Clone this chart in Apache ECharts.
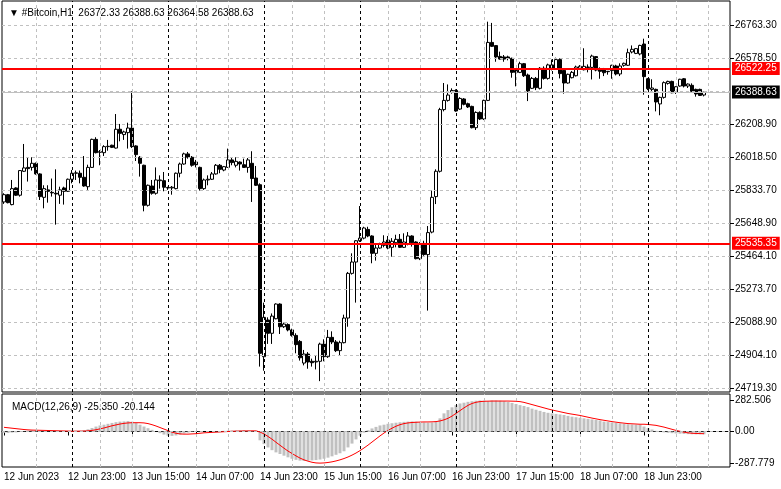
<!DOCTYPE html>
<html><head><meta charset="utf-8">
<script src="https://cdn.jsdelivr.net/npm/echarts@6.0.0/dist/echarts.min.js"></script>
<style>html,body{margin:0;padding:0;background:#fff}#c{width:781px;height:489px}</style>
</head><body><div id="c"></div>
<script>
const symbolName = '#Bitcoin,H1';
const opens = [25769,25810,25754,25848,25807,25942,25964,25964,25987,25927,25795,25837,25823,25818,25807,25848,25829,25897,25931,25931,
25908,25855,25964,26122,26049,26047,26081,26089,26073,26179,26149,26160,26186,26085,26021,25976,25750,25859,25818,25889,
25889,25850,25848,25844,25931,25983,26040,26021,25994,25964,25844,25893,25897,25927,25976,25949,25964,26006,25976,25994,
25979,25964,25987,25904,25866,24896,25103,25028,25110,25193,25065,25077,25047,25016,24982,24860,24911,24870,24866,24870,
24967,24896,25005,24979,24930,24975,25114,25366,25430,25550,25565,25614,25577,25479,25509,25524,25554,25513,25539,25558,
25513,25532,25577,25543,25449,25535,25472,25599,25799,25942,26290,26342,26387,26398,26293,26350,26323,26308,26188,26274,
26237,26342,26669,26651,26590,26587,26587,26579,26511,26500,26549,26485,26410,26466,26410,26523,26466,26523,26519,26572,
26511,26440,26470,26481,26523,26515,26530,26528,26589,26517,26517,26506,26510,26536,26491,26540,26540,26615,26607,26604,
26660,26464,26404,26404,26322,26359,26438,26449,26389,26423,26464,26423,26427,26404,26404,26372.33];
const highs = [25818,25814,25893,25852,25949,26096,26017,26021,25991,25931,25863,25863,25901,25953,25855,25855,25901,25949,25946,25946,
26028,25979,26126,26134,26062,26089,26119,26092,26265,26209,26171,26216,26393,26089,26028,25979,25867,25893,25964,25919,
25938,25855,25859,25935,25991,26047,26051,26028,26006,25968,25901,25919,25938,25983,25983,25972,26070,26017,26021,25998,
26013,26017,26055,25972,25874,25201,25118,25140,25197,25197,25088,25084,25054,25028,24990,24934,24922,24885,24900,24975,
24994,25047,25039,24990,24986,25133,25374,25479,25554,25746,25629,25629,25581,25528,25539,25581,25577,25565,25584,25588,
25592,25599,25581,25547,25543,25550,25633,25833,25953,26300,26440,26432,26410,26404,26360,26355,26329,26312,26280,26280,
26346,26786,26779,26654,26617,26598,26594,26583,26523,26560,26553,26493,26474,26474,26530,26534,26549,26572,26583,26579,
26515,26493,26508,26538,26541,26636,26545,26600,26592,26528,26525,26508,26543,26543,26551,26555,26634,26652,26637,26656,
26690,26468,26461,26408,26363,26449,26453,26453,26423,26464,26468,26438,26438,26408,26408,26388.63];
const lows = [25758,25761,25750,25803,25799,25938,25884,25946,25923,25780,25733,25765,25799,25641,25758,25754,25825,25874,25893,25874,
25855,25837,25961,26043,25976,26028,26058,26073,26070,26111,26119,26070,26073,26000,25912,25716,25743,25810,25810,25844,
25829,25837,25810,25840,25908,25979,26013,25968,25964,25833,25837,25863,25893,25923,25931,25942,25961,25976,25964,25946,
25961,25934,25769,25859,24840,24817,24968,24968,25107,25024,25058,25039,25009,24915,24874,24847,24828,24840,24824,24758,
24870,24889,24967,24922,24900,24971,25065,25359,25201,25543,25558,25570,25423,25438,25505,25513,25502,25460,25513,25509,
25509,25524,25517,25445,25441,25465,25156,25592,25757,25935,26280,26335,26380,26278,26288,26314,26299,26184,26175,26231,
26231,26338,26643,26560,26572,26560,26568,26470,26421,26496,26474,26338,26406,26400,26404,26459,26459,26511,26515,26466,
26380,26436,26466,26477,26519,26511,26500,26460,26506,26464,26479,26487,26464,26483,26479,26532,26536,26607,26603,26596,
26374,26400,26385,26280,26258,26352,26431,26382,26378,26419,26415,26412,26389,26363,26367,26364.58];
const closes = [25810,25765,25844,25807,25946,25961,25957,25987,25927,25799,25844,25829,25820,25814,25837,25829,25897,25931,25933,25908,
25859,25964,26122,26047,26053,26081,26083,26077,26179,26156,26164,26186,26081,26036,25987,25750,25863,25818,25893,25893,
25852,25848,25852,25931,25983,26040,26021,25976,25979,25844,25893,25897,25927,25976,25953,25968,26006,25991,25998,25983,
25964,26006,25901,25863,24915,25118,25028,25125,25193,25065,25080,25047,25016,24964,24890,24911,24866,24862,24870,24967,
24896,25005,24979,24930,24975,25114,25366,25430,25550,25565,25622,25577,25479,25509,25532,25543,25509,25547,25558,25513,
25543,25577,25539,25449,25535,25472,25596,25795,25942,26290,26342,26372,26398,26282,26353,26320,26305,26188,26274,26237,
26342,26669,26647,26587,26575,26575,26579,26500,26500,26549,26481,26395,26466,26414,26523,26466,26542,26542,26572,26493,
26440,26489,26500,26530,26534,26534,26528,26592,26513,26506,26498,26504,26540,26491,26536,26551,26611,26630,26634,26652,
26476,26408,26412,26333,26359,26442,26449,26385,26419,26461,26423,26434,26393,26378,26370,26388.63];
const macdMain = [-12,-14,-10,-8,-4,2,8,12,14,10,4,2,-2,-4,-3,0,2,4,6,8,
12,20,32,45,55,62,70,78,85,90,92,95,90,78,62,45,30,15,0,-15,
-28,-38,-40,-36,-28,-18,-10,-4,0,2,0,-2,0,2,4,6,8,8,10,10,
12,10,6,0,-80,-115,-145,-170,-190,-205,-220,-235,-248,-258,-265,-268,-266,-263,-260,-255,
-248,-238,-226,-212,-198,-180,-145,-110,-72,-38,-10,12,28,42,55,62,70,75,80,84,
88,90,92,90,85,82,80,82,95,120,165,195,220,240,255,262,270,276,280,282.506,
280,275,282,282,280,275,268,260,250,240,232,222,208,198,188,178,170,165,160,155,
150,142,135,130,125,120,115,110,105,100,90,86,82,78,74,70,66,64,62,62,
45,30,18,6,-2,-8,-12,-15,-18,-20,-22,-24,-25,-26,-25,-25.350];
const macdSignal = [38,34,30,26,22,18,15,13,12,11,10,9,8,7,6,5,4,3,3,3,
4,6,10,16,24,32,42,52,60,68,74,78,80,80,80,78,72,62,50,36,
22,8,-6,-16,-22,-24,-24,-22,-20,-16,-12,-10,-8,-6,-4,-2,0,2,3,4,
5,5,6,6,-5,-22,-45,-70,-98,-125,-152,-178,-200,-222,-242,-258,-270,-280,-286,-287.779,
-286,-282,-276,-268,-258,-246,-232,-215,-196,-174,-150,-124,-96,-68,-40,-14,10,30,48,62,
72,78,82,84,86,87,87,88,90,96,106,120,140,165,190,215,238,255,266,272,
275,276,277,277,277,277,277,276,275,272,265,255,245,235,225,215,205,196,188,180,
172,164,158,152,146,138,130,122,115,108,102,96,90,85,80,76,72,70,68,66,
66,64,60,56,48,40,30,20,10,2,-6,-12,-16,-18,-19,-20.144];
const xTickLabels = ['12 Jun 2023','12 Jun 23:00','13 Jun 15:00','14 Jun 07:00','14 Jun 23:00','15 Jun 15:00','16 Jun 07:00','16 Jun 23:00','17 Jun 15:00','18 Jun 07:00','18 Jun 23:00'];
const priceTickLabels = [24719.30,24904.10,25088.90,25273.70,25464.10,25648.90,25833.70,26018.50,26208.90,26578.50,26763.30];
const priceGridLevels = [24719.30,24904.10,25088.90,25273.70,25464.10,25648.90,25833.70,26018.50,26208.90,26393.70,26578.50,26763.30];
const levelLines = [26522.25, 25535.35];
const bidPrice = 26388.63;
const macdTickLabels = [282.506, 0, -287.779];

const FONT = 'Liberation Sans, Arial, sans-serif';
const FS = 10;
const NB = 182; // slots incl. right shift
const start = Date.UTC(2023, 5, 12, 7);
const cats = [];
const separators = [];
for (let i = 0; i < NB; i++) {
  const d = new Date(start + i * 3600000);
  cats.push(String(i));
  if (d.getUTCHours() === 0) separators.push(i);
}
const gridV = [];
for (let i = 8; i < NB; i += 8) { if (separators.indexOf(i + 1) < 0 && separators.indexOf(i) < 0) gridV.push(i); }

const candles = opens.map((o, i) => [o, closes[i], lows[i], highs[i]]);
const greyDash = {color: '#c0c0c0', type: [3, 3], width: 1};
const blackDash = {color: '#000', type: [3, 3], width: 1};
function vLines(style) { return (arr) => arr.map(i => ({xAxis: cats[i], lineStyle: style})); }
const baseML = {symbol: ['none', 'none'], silent: true, animation: false, label: {show: false}};

const chart = echarts.init(document.getElementById('c'), null, {renderer: 'canvas'});
chart.setOption({
  animation: false,
  backgroundColor: '#fff',
  textStyle: {fontFamily: FONT},
  title: [
    {text: '\u25BC ' + symbolName + '  ' + [opens[175], highs[175], lows[175], closes[175]].map(v => v.toFixed(2)).join(' '),
     left: 4, top: 3, textStyle: {fontSize: FS, fontWeight: 'normal', color: '#000', fontFamily: FONT}},
    {text: 'MACD(12,26,9) ' + macdMain[macdMain.length - 1].toFixed(3) + ' ' + macdSignal[macdSignal.length - 1].toFixed(3),
     left: 7, top: 397, textStyle: {fontSize: FS, fontWeight: 'normal', color: '#000', fontFamily: FONT}}
  ],
  grid: [
    {left: 2, top: 1, width: 728, height: 391, show: true, borderColor: '#000', borderWidth: 1, backgroundColor: 'transparent'},
    {left: 2, top: 394, width: 728, height: 73, show: true, borderColor: '#000', borderWidth: 1, backgroundColor: 'transparent'}
  ],
  xAxis: [
    {type: 'category', gridIndex: 0, data: cats, show: false},
    {type: 'category', gridIndex: 1, data: cats,
     axisLine: {show: true, lineStyle: {color: '#000'}},
     axisTick: {show: true, alignWithLabel: true, length: 4, interval: (i) => i % 16 === 0 && i / 16 < xTickLabels.length, lineStyle: {color: '#000'}},
     axisLabel: {show: true, interval: (i) => i % 16 === 0 && i / 16 < xTickLabels.length, align: 'left', margin: 5,
       formatter: (v, i) => xTickLabels[i / 16] || '', fontSize: FS, color: '#000', fontFamily: FONT},
     splitLine: {show: false}}
  ],
  yAxis: [
    {type: 'value', gridIndex: 0, position: 'right', min: 24696.73, max: 26902.66, scale: true,
     splitLine: {show: false}, axisLine: {show: false},
     axisTick: {show: true, customValues: priceTickLabels, length: 4, lineStyle: {color: '#000'}},
     axisLabel: {customValues: priceTickLabels, formatter: (v) => v.toFixed(2), fontSize: FS, color: '#000', margin: 5, fontFamily: FONT}},
    {type: 'value', gridIndex: 1, position: 'right', min: -323.05, max: 341.25,
     splitLine: {show: false}, axisLine: {show: false},
     axisTick: {show: true, customValues: macdTickLabels, length: 4, lineStyle: {color: '#000'}},
     axisLabel: {customValues: macdTickLabels, formatter: (v) => (v === 0 ? '0.00' : v.toFixed(3)), fontSize: FS, color: '#000', margin: 5, fontFamily: FONT}}
  ],
  series: [
    {type: 'line', xAxisIndex: 0, yAxisIndex: 0, data: [], z: 1, silent: true,
     markLine: Object.assign({}, baseML, {data: [].concat(
       priceGridLevels.map(v => ({yAxis: v, lineStyle: greyDash})),
       vLines(greyDash)(gridV),
       vLines(blackDash)(separators))})},
    {type: 'candlestick', xAxisIndex: 0, yAxisIndex: 0, data: candles, barWidth: 3, z: 2,
     itemStyle: {color: '#ffffff', color0: '#000000', borderColor: '#000000', borderColor0: '#000000', borderWidth: 1}},
    {type: 'line', xAxisIndex: 0, yAxisIndex: 0, data: [], z: 5, silent: true,
     markLine: Object.assign({}, baseML, {data: [].concat(
       [{yAxis: bidPrice, lineStyle: {color: '#c0c0c0', type: 'solid', width: 1},
         label: {show: true, position: 'end', distance: 2, formatter: bidPrice.toFixed(2), color: '#fff', backgroundColor: '#000', padding: [2, 3, 1, 3], fontSize: FS, fontFamily: FONT}}],
       levelLines.map(v => ({yAxis: v, lineStyle: {color: '#ff0000', type: 'solid', width: 2},
         label: {show: true, position: 'end', distance: 2, formatter: v.toFixed(2), color: '#fff', backgroundColor: '#ff0000', padding: [2, 3, 1, 3], fontSize: FS, fontFamily: FONT}})))})},
    {type: 'line', xAxisIndex: 1, yAxisIndex: 1, data: [], z: 1, silent: true,
     markLine: Object.assign({}, baseML, {data: [].concat(
       [{yAxis: 0, lineStyle: greyDash}],
       vLines(greyDash)(gridV),
       vLines(blackDash)(separators))})},
    {type: 'bar', xAxisIndex: 1, yAxisIndex: 1, data: macdMain, barWidth: 3, z: 2, itemStyle: {color: '#c0c0c0'}, silent: true},
    {type: 'line', xAxisIndex: 1, yAxisIndex: 1, data: macdSignal, z: 3, showSymbol: false, symbol: 'none', silent: true,
     lineStyle: {color: '#ff0000', width: 1}}
  ]
});
</script></body></html>
